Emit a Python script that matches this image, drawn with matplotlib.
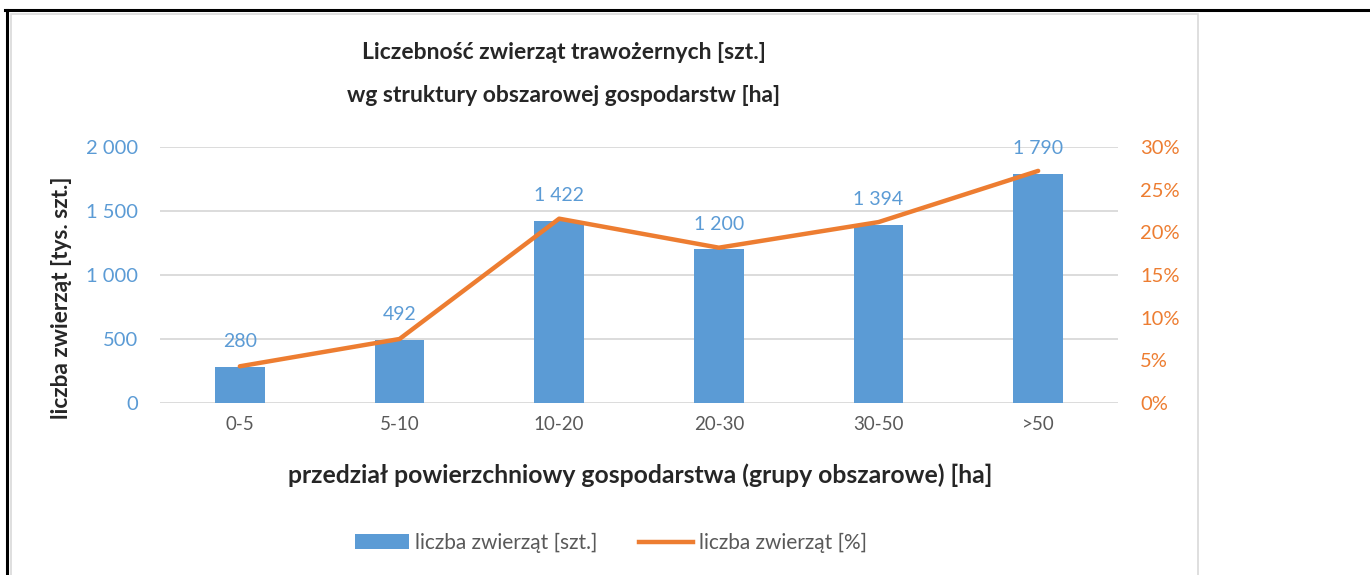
import matplotlib
matplotlib.use("Agg")
import matplotlib.pyplot as plt
from matplotlib.lines import Line2D
from matplotlib.patches import Rectangle, Patch

plt.rcParams['font.family'] = ['Lato', 'DejaVu Sans']

categories = ["0-5", "5-10", "10-20", "20-30", "30-50", ">50"]
counts = [280, 492, 1422, 1200, 1394, 1790]
percent = [4.3, 7.5, 21.6, 18.2, 21.2, 27.2]
count_labels = ["280", "492", "1 422", "1 200", "1 394", "1 790"]
left_ticks = [0, 500, 1000, 1500, 2000]
left_tick_labels = ["0", "500", "1 000", "1 500", "2 000"]
right_ticks = [0, 5, 10, 15, 20, 25, 30]
right_tick_labels = ["0%", "5%", "10%", "15%", "20%", "25%", "30%"]

title = "Liczebność zwierząt trawożernych [szt.]\nwg struktury obszarowej gospodarstw [ha]"
xlabel = "przedział powierzchniowy gospodarstwa (grupy obszarowe) [ha]"
ylabel = "liczba zwierząt [tys. szt.]"
legend_bar = "liczba zwierząt [szt.]"
legend_line = "liczba zwierząt [%]"

BLUE = "#5B9BD5"
ORANGE = "#ED7D31"
GRID = "#D9D9D9"
W, H = 1370, 575

fig = plt.figure(figsize=(W / 100, H / 100), dpi=100)
fig.patch.set_facecolor("white")

# outer frame lines
fig.add_artist(Line2D([5 / W, 1], [1 - 10 / H, 1 - 10 / H], color="black", lw=2.2, transform=fig.transFigure))
fig.add_artist(Line2D([7 / W, 7 / W], [0, 1 - 10 / H], color="black", lw=2.2, transform=fig.transFigure))
fig.add_artist(Rectangle((11 / W, -0.01), (1198 - 11) / W, (H - 14) / H + 0.01, fill=False,
                         edgecolor="#D9D9D9", lw=1.2, transform=fig.transFigure))

ax = fig.add_axes([160 / W, 1 - 403 / H, (1118 - 160) / W, (403 - 147) / H])
x = list(range(len(categories)))
ax.bar(x, counts, width=0.31, color=BLUE, zorder=2)
ax.set_xlim(-0.5, len(categories) - 0.5)
ax.set_ylim(0, 2000)
ax.set_yticks(left_ticks)
ax.set_yticklabels(left_tick_labels, color=BLUE, fontsize=14.5)
ax.set_xticks(x)
ax.set_xticklabels(categories, color="#595959", fontsize=13.5)
ax.tick_params(axis="both", length=0)
ax.tick_params(axis="y", pad=16)
ax.tick_params(axis="x", pad=9)
ax.grid(axis="y", color=GRID, lw=1.3, zorder=0)
for s in ax.spines.values():
    s.set_visible(False)
ax.set_axisbelow(True)

for xi, c, lab in zip(x, counts, count_labels):
    ax.annotate(lab, (xi, c), xytext=(0, 12), textcoords="offset points",
                ha="center", va="bottom", color=BLUE, fontsize=14)

ax2 = ax.twinx()
ax2.plot(x, percent, color=ORANGE, lw=3.2, solid_joinstyle="round", solid_capstyle="round", zorder=3)
ax2.set_ylim(0, 30)
ax2.set_yticks(right_ticks)
ax2.set_yticklabels(right_tick_labels, color=ORANGE, fontsize=14.5)
ax2.tick_params(axis="y", which="both", length=0, pad=16)
for s in ax2.spines.values():
    s.set_visible(False)

fig.text(564 / W, 1 - 74 / H, title, ha="center", va="center", fontsize=16.5, fontweight="bold",
         color="#262626", linespacing=2.35)
fig.text(640 / W, 1 - 475 / H, xlabel, ha="center", va="center", fontsize=17.8, fontweight="bold",
         color="#262626")
fig.text(62 / W, 1 - 298 / H, ylabel, ha="center", va="center", rotation=90, fontsize=16.3,
         fontweight="bold", color="#262626")

handles = [Patch(facecolor=BLUE, edgecolor="none"), Line2D([], [], color=ORANGE, lw=3.2)]
fig.legend(handles, [legend_bar, legend_line], loc="center", bbox_to_anchor=(611 / W, 1 - 543 / H),
           ncol=2, frameon=False, fontsize=15, labelcolor="#595959", handlelength=2.6,
           handletextpad=0.3, columnspacing=2.0)

fig.savefig("out.png", dpi=100, facecolor="white")
